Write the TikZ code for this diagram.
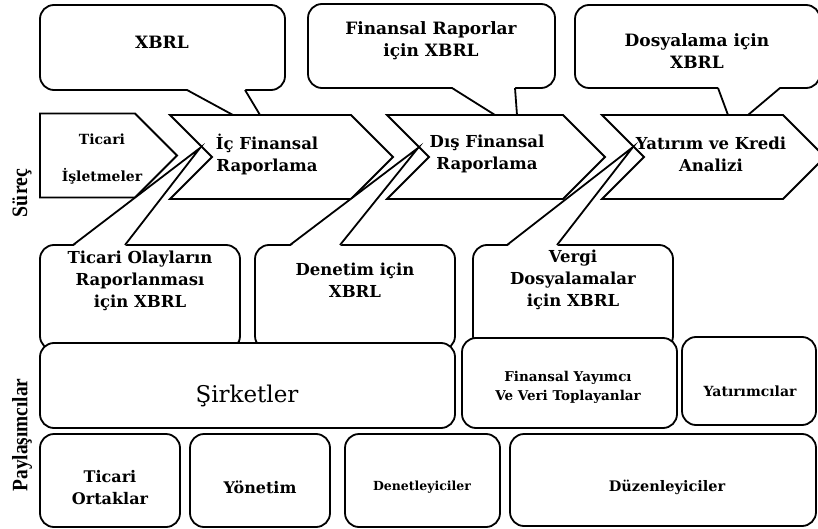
\documentclass[tikz,border=0pt]{standalone}
\usepackage{fontspec}
\setmainfont{DejaVu Serif}
\newfontfamily\sidefont{Liberation Serif}
\usetikzlibrary{shapes.symbols}
\tikzset{
  edge/.style={black,line width=1.8pt},
  bubble/.style={draw=black,line width=1.8pt,fill=white,rounded corners=14pt,inner sep=0pt},
  chev/.style={draw=black,line width=1.8pt,fill=white,shape=signal,signal to=east,
               signal from=west,minimum height=84pt,inner sep=0pt},
  first/.style={chev,signal from=nowhere},
  actor/.style={draw=black,line width=1.8pt,fill=white,rounded corners=14pt,inner sep=0pt},
  txt/.style={font=\bfseries\fontsize{16.5}{22}\selectfont,align=center,inner sep=0pt},
  small/.style={font=\bfseries\fontsize{13.5}{19}\selectfont,align=center,inner sep=0pt},
  side/.style={font=\sidefont\bfseries\fontsize{22}{22}\selectfont,rotate=90,inner sep=0pt},
}
\begin{document}
\begin{tikzpicture}[x=1pt,y=-1pt]
  \path[use as bounding box] (0,0) rectangle (818,529);

  % XBRL callouts above the process
  \node[bubble,minimum width=245pt,minimum height=85pt] (xbrl) at (162.5,47.5) {};
  \node[bubble,minimum width=247pt,minimum height=84pt] (finrap) at (431.5,46) {};
  \node[bubble,minimum width=245pt,minimum height=83pt] (dosya) at (697.5,46.5) {};
  \fill[white] (187,89) -- (233,116) -- (260,116) -- (245,89) -- cycle;
  \draw[edge] (187,90) -- (233,115) (245,90) -- (260,115);
  \fill[white] (452,87) -- (495,116) -- (517,116) -- (515,87) -- cycle;
  \draw[edge] (452,88) -- (495,115) (515,88) -- (517,115);
  \fill[white] (718,87) -- (728,116) -- (748,116) -- (780,87) -- cycle;
  \draw[edge] (718,88) -- (728,115) (780,88) -- (748,115);
  \node[txt,font=\bfseries\fontsize{17}{22}\selectfont] (xbrl-t) at (162,42) {XBRL};
  \node[txt,font=\bfseries\fontsize{17}{22}\selectfont] (finrap-t) at (431,41) {Finansal Raporlar\\için XBRL};
  \node[txt,font=\bfseries\fontsize{17}{22}\selectfont] (dosya-t) at (697,51) {Dosyalama için\\XBRL};

  % process
  \node[first,minimum width=137pt] (ticari) at (87.5,155.5) {};
  \node[chev,minimum width=223pt] (icfin) at (281.5,157) {};
  \node[chev,minimum width=218pt] (disfin) at (496,157) {};
  \node[chev,minimum width=223pt] (yatirim) at (713.5,157) {};
  \node[txt,font=\bfseries\fontsize{14}{37}\selectfont] (ticari-t) at (102,159.5) {Ticari\\İşletmeler};
  \node[txt] (icfin-t) at (267,154) {İç Finansal\\Raporlama};
  \node[txt] (disfin-t) at (487,154) {Dış Finansal\\Raporlama};
  \node[txt] (yatirim-t) at (711,154) {Yatırım ve Kredi\\Analizi};

  % XBRL callouts below the process
  \node[bubble,minimum width=200pt,minimum height=105pt] (olay) at (140,297.5) {};
  \node[bubble,minimum width=200pt,minimum height=105pt] (denetim) at (355,297.5) {};
  \node[bubble,minimum width=200pt,minimum height=105pt] (vergi) at (573,297.5) {};
  \fill[white] (73,246.5) -- (200,148) -- (125,246.5) -- cycle;
  \draw[edge] (73,245) -- (200,148) -- (125,245);
  \fill[white] (290,246.5) -- (418,148) -- (340,246.5) -- cycle;
  \draw[edge] (290,245) -- (418,148) -- (340,245);
  \fill[white] (507,246.5) -- (633,147) -- (557,246.5) -- cycle;
  \draw[edge] (507,245) -- (633,147) -- (557,245);
  \node[txt] (olay-t) at (140,281) {Ticari Olayların\\Raporlanması\\için XBRL};
  \node[txt] (denetim-t) at (355,280.5) {Denetim için\\XBRL};
  \node[txt] (vergi-t) at (573,280) {Vergi\\Dosyalamalar\\için XBRL};

  % stakeholders
  \node[actor,minimum width=415pt,minimum height=85pt] (sirket) at (247.5,385.5) {};
  \node[actor,minimum width=215pt,minimum height=90pt] (yayimci) at (569.5,383) {};
  \node[actor,minimum width=134pt,minimum height=88pt] (yatirimci) at (749,381) {};
  \node[actor,minimum width=140pt,minimum height=93pt] (ortak) at (110,480.5) {};
  \node[actor,minimum width=140pt,minimum height=93pt] (yonetim) at (260,480.5) {};
  \node[actor,minimum width=155pt,minimum height=93pt] (denetci) at (422.5,480.5) {};
  \node[actor,minimum width=306pt,minimum height=92pt] (duzen) at (663,480) {};
  \node[inner sep=0pt,font=\fontsize{23}{23}\selectfont] (sirket-t) at (247,396) {Şirketler};
  \node[small] (yayimci-t) at (568,387.5) {Finansal Yayımcı\\Ve Veri Toplayanlar};
  \node[small,font=\bfseries\fontsize{14}{19}\selectfont] (yatirimci-t) at (750,391) {Yatırımcılar};
  \node[txt,font=\bfseries\fontsize{16}{22}\selectfont] (ortak-t) at (110,488) {Ticari\\Ortaklar};
  \node[txt,font=\bfseries\fontsize{16}{22}\selectfont] (yonetim-t) at (260,487) {Yönetim};
  \node[txt,font=\bfseries\fontsize{12.5}{19}\selectfont] (denetci-t) at (422,487) {Denetleyiciler};
  \node[txt,font=\bfseries\fontsize{14.5}{19}\selectfont] (duzen-t) at (667,487) {Düzenleyiciler};

  % layer labels
  \node[side] (surec) at (22,193) {\scalebox{0.9}[1]{Süreç}};
  \node[side] (paylas) at (22,435) {\scalebox{0.88}[1]{Paylaşımcılar}};
\end{tikzpicture}
\end{document}
